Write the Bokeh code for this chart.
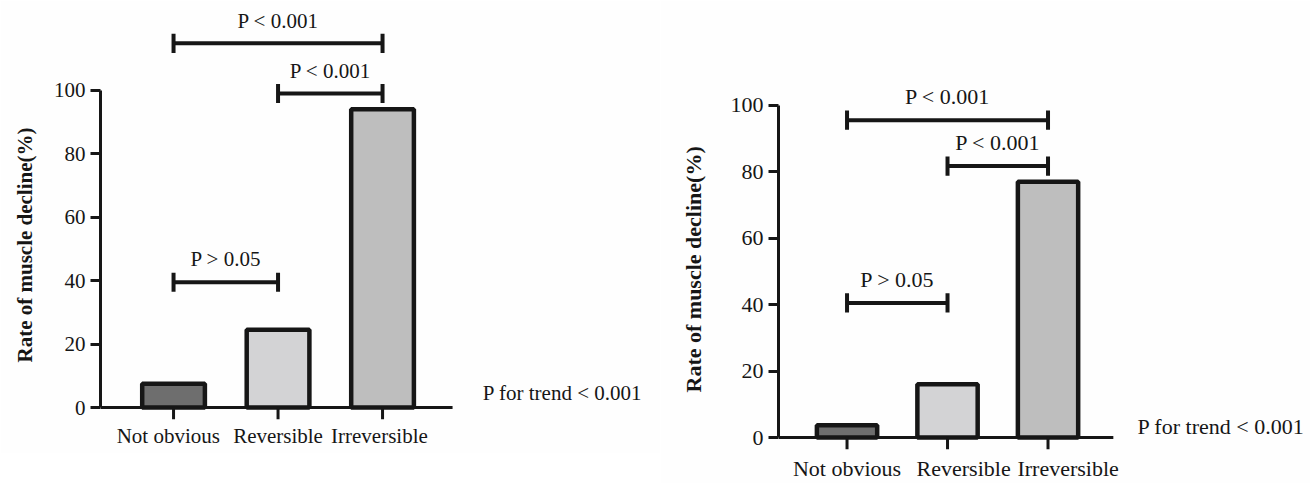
from bokeh.plotting import figure
from bokeh.layouts import row
from bokeh.models import FixedTicker, Range1d, ColumnDataSource, Title
from bokeh.core.properties import value
from bokeh.embed import file_html
from bokeh.resources import INLINE

categories = ["Not obvious", "Reversible", "Irreversible"]
bar_colors = ["#6e6e6e", "#d3d3d5", "#bebebe"]
left_values = [7.5, 24.5, 94.0]
right_values = [3.7, 16.0, 77.0]
y_ticks = [0, 20, 40, 60, 80, 100]
bracket_from = [1, 2, 1]
bracket_to = [2, 3, 3]
bracket_labels = ["P > 0.05", "P < 0.001", "P < 0.001"]
left_bracket_levels = [39.5, 99.0, 114.8]
right_bracket_levels = [40.5, 81.7, 95.5]
y_label = "Rate of muscle decline(%)"
trend_label = "P for trend < 0.001"

FONT = "Liberation Serif"
INK = "#161616"


def panel(values, levels, width, height, b_left, b_right, x_start, x_end, axis_end,
          y_start, y_end, bar_w, cap, text_off, trend_x, trend_y, label_offset,
          label_standoff, fs, label_shift, xlabel_standoff):
    positions = [i + 1 for i in range(len(categories))]
    p = figure(width=width, height=height, output_backend="svg", toolbar_location=None,
               x_range=Range1d(x_start, x_end), y_range=Range1d(y_start, y_end),
               min_border_left=b_left, min_border_right=b_right,
               min_border_top=10, min_border_bottom=33)
    p.outline_line_color = None
    p.xgrid.visible = False
    p.ygrid.visible = False
    p.background_fill_color = "#fefefe"
    p.border_fill_color = "#fefefe"

    src = ColumnDataSource(dict(x=positions, top=values, color=bar_colors))
    p.vbar(x="x", top="top", bottom=0, width=bar_w, fill_color="color",
           line_color=INK, line_width=4.5, source=src)

    # category axis line and tick marks at y = 0
    p.segment(x0=[x_start], y0=[0], x1=[axis_end], y1=[0], line_width=3, line_color=INK)
    p.segment(x0=positions, y0=[0] * len(positions), x1=positions,
              y1=[y_start] * len(positions), line_width=3, line_color=INK)

    # category labels
    label_pos = [pos + s for pos, s in zip(positions, label_shift)]
    xa = p.xaxis[0]
    xa.ticker = FixedTicker(ticks=label_pos)
    xa.major_label_overrides = {lp: c for lp, c in zip(label_pos, categories)}
    xa.axis_line_color = None
    xa.major_tick_line_color = None
    xa.minor_tick_line_color = None
    xa.major_tick_in = 0
    xa.major_tick_out = 0
    xa.major_label_standoff = xlabel_standoff
    xa.major_label_text_font = FONT
    xa.major_label_text_font_size = fs
    xa.major_label_text_color = INK

    ya = p.yaxis[0]
    ya.ticker = FixedTicker(ticks=y_ticks)
    ya.bounds = (0, 100)
    ya.axis_line_width = 3
    ya.axis_line_color = INK
    ya.major_tick_line_width = 3
    ya.major_tick_line_color = INK
    ya.major_tick_in = 0
    ya.major_tick_out = 10
    ya.minor_tick_line_color = None
    ya.major_label_standoff = 5
    ya.major_label_text_font = FONT
    ya.major_label_text_font_size = fs
    ya.major_label_text_color = INK

    p.add_layout(Title(text=y_label, align="left", offset=label_offset,
                       vertical_align="top",
                       standoff=label_standoff, text_font=FONT,
                       text_font_style="bold", text_font_size=fs,
                       text_color=INK), "left")

    bsrc = ColumnDataSource(dict(
        x0=bracket_from, x1=bracket_to, y=levels,
        lo=[v - cap for v in levels], hi=[v + cap for v in levels],
        xm=[(a + b) / 2 for a, b in zip(bracket_from, bracket_to)],
        ty=[v + text_off for v in levels], label=bracket_labels))
    p.segment(x0="x0", y0="y", x1="x1", y1="y", line_width=4, line_color=INK, source=bsrc)
    p.segment(x0="x0", y0="lo", x1="x0", y1="hi", line_width=4, line_color=INK, source=bsrc)
    p.segment(x0="x1", y0="lo", x1="x1", y1="hi", line_width=4, line_color=INK, source=bsrc)
    p.text(x="xm", y="ty", text="label", source=bsrc, text_align="center",
           text_baseline="middle", text_font=value(FONT), text_font_size=fs,
           text_color=INK)
    p.text(x=[trend_x], y=[trend_y], text=[trend_label], text_align="left",
           text_baseline="middle", text_font=value(FONT), text_font_size=fs,
           text_color=INK)
    return p


p1 = panel(left_values, left_bracket_levels, 660, 453, 100, 5,
           0.301, 5.612, 3.67, -3.774, 125.16, 0.60, 3.0, 7.2, 3.96, 4.7, 57, 24, "21px",
           [-0.05, 0.0, -0.03], 4)
p2 = panel(right_values, right_bracket_levels, 650, 483, 118, 0,
           0.318, 5.612, 3.65, -3.604, 128.53, 0.60, 2.9, 7.2, 3.89, 3.3, 57, 40, "22px",
           [0.0, 0.16, 0.2], 6)

layout = row(p1, p2)
layout.spacing = 0
open("out.html", "w").write(file_html(layout, INLINE))
